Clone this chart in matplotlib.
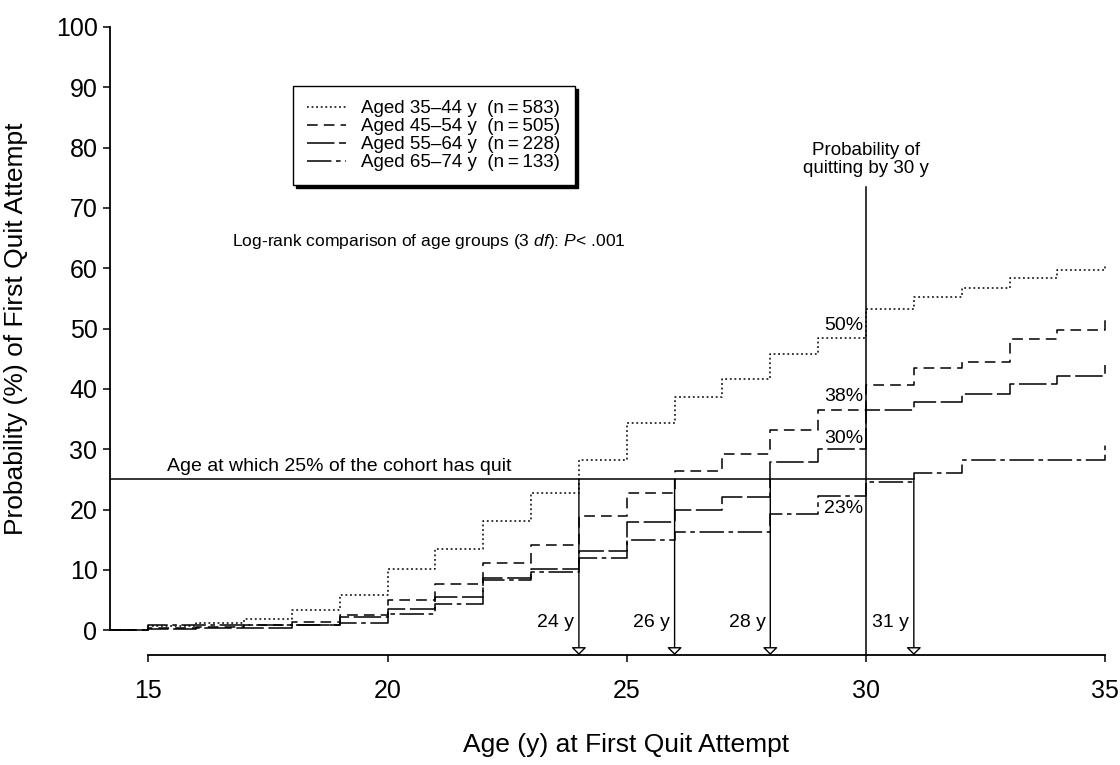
import numpy as np
import matplotlib
matplotlib.use("Agg")
import matplotlib.pyplot as plt

plt.rcParams['font.family'] = ['Liberation Sans', 'DejaVu Sans']
plt.rcParams['mathtext.fontset'] = 'custom'
plt.rcParams['mathtext.rm'] = 'Liberation Sans'
plt.rcParams['mathtext.it'] = 'Liberation Sans:italic'

# ages at which the step curves change (value holds from age k to k+1)
ages = list(range(15, 36))

labels = ["Aged 35\u201344 y  (n\u2009=\u2009583)",
          "Aged 45\u201354 y  (n\u2009=\u2009505)",
          "Aged 55\u201364 y  (n\u2009=\u2009228)",
          "Aged 65\u201374 y  (n\u2009=\u2009133)"]

aged_35_44 = [0.7, 1.2, 1.8, 3.4, 5.8, 10.2, 13.5, 18.1, 22.8, 28.2, 34.3,
              38.6, 41.6, 45.8, 48.4, 53.3, 55.3, 56.8, 58.4, 59.8, 60.7]
aged_45_54 = [0.4, 0.6, 0.9, 1.4, 2.6, 5.0, 7.6, 11.2, 14.1, 18.9, 22.7,
              26.4, 29.3, 33.2, 36.5, 40.7, 43.5, 44.5, 48.2, 49.8, 52.3]
aged_55_64 = [0.2, 0.3, 0.4, 0.8, 2.2, 3.6, 5.5, 8.7, 10.2, 13.2, 17.9,
              20.0, 22.1, 27.9, 30.0, 36.5, 37.9, 39.2, 40.9, 42.2, 43.9]
aged_65_74 = [0.8, 0.8, 0.8, 0.8, 1.2, 2.7, 4.3, 8.3, 9.6, 12.0, 14.9,
              16.3, 16.3, 19.3, 22.3, 24.6, 26.1, 28.2, 28.2, 28.2, 31.0]
series = [aged_35_44, aged_45_54, aged_55_64, aged_65_74]
styles = [(0, (1.2, 1.8)), (0, (7, 4)), (0, (18, 3)), (0, (16, 3, 3, 3))]

# age at which 25% has quit, per group
quit25_ages = [24, 26, 28, 31]
quit25_text = ["24 y", "26 y", "28 y", "31 y"]
# probability of quitting by 30 y
by30_text = ["50%", "38%", "30%", "23%"]
by30_y = [50.6, 38.8, 31.8, 20.2]

x_left, y_bottom = 14.2, -4.1

fig = plt.figure(figsize=(11.2, 7.65), dpi=100)
ax = fig.add_axes([110/1120, 110/765, 1000/1120, 628/765])
ax.set_xlim(x_left, 35.1)
ax.set_ylim(y_bottom, 100)

for vals, ls, lab in zip(series, styles, labels):
    ax.plot([x_left] + ages, [0] + vals, drawstyle='steps-post', color='black',
            lw=1.1, linestyle=ls, label=lab)

# 25% reference line and arrows
ax.plot([x_left, 31], [25, 25], color='black', lw=1.1)
ax.text(15.4, 25.8, "Age at which 25% of the cohort has quit", fontsize=14, va='bottom')
for a, t in zip(quit25_ages, quit25_text):
    ax.annotate('', xy=(a, y_bottom), xytext=(a, 25),
                arrowprops=dict(arrowstyle='-|>,head_length=0.45,head_width=0.45',
                                fc='white', ec='black', lw=1.0, shrinkA=0, shrinkB=0,
                                mutation_scale=10))
    ax.text(a - 0.1, 1.3, t, fontsize=14, ha='right', va='center')

# 30 y line
ax.plot([30, 30], [y_bottom, 73.5], color='black', lw=1.1)
ax.text(30, 75.2, "Probability of\nquitting by 30 y", fontsize=13.5, ha='center',
        va='bottom', linespacing=1.05)
for t, y in zip(by30_text, by30_y):
    ax.text(29.94, y, t, fontsize=14, ha='right', va='center')

ax.text(16.75, 64.5, r"Log-rank comparison of age groups (3 $\mathit{df}$): $\mathit{P}$< .001",
        fontsize=12.6, va='center')

leg = ax.legend(loc='upper left', bbox_to_anchor=(293/1120, (765-86)/765),
                bbox_transform=fig.transFigure, fontsize=13.5, frameon=True,
                fancybox=False, edgecolor='black', handlelength=2.1,
                handletextpad=0.8, labelspacing=0.05, borderpad=0.75,
                borderaxespad=0, shadow={'color': 'black', 'alpha': 1})
leg.get_frame().set_linewidth(1.0)

# axes look
for s in ['top', 'right']:
    ax.spines[s].set_visible(False)
ax.spines['left'].set_bounds(0, 100)
ax.spines['bottom'].set_bounds(15, 35)
ax.spines['left'].set_linewidth(1.3)
ax.spines['bottom'].set_linewidth(1.3)
ax.set_xticks([15, 20, 25, 30, 35])
ax.set_yticks(range(0, 101, 10))
ax.tick_params(axis='both', labelsize=18, length=5, width=1.1, direction='out')
ax.tick_params(axis='x', pad=12)
ax.tick_params(axis='y', pad=4)

ax.set_xlabel("Age (y) at First Quit Attempt", fontsize=19)
ax.set_ylabel("Probability (%) of First Quit Attempt", fontsize=19)
ax.xaxis.set_label_coords(0.516, -0.124)
ax.yaxis.set_label_coords(-0.082, 0.52)

fig.savefig("out.png", dpi=100)
